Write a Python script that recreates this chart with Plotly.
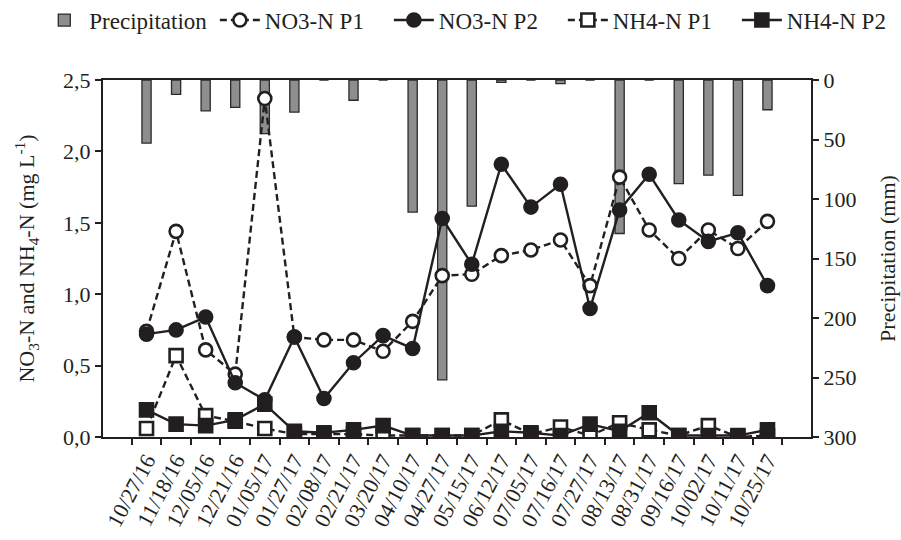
import plotly.graph_objects as go

dates = ["10/27/16", "11/18/16", "12/05/16", "12/21/16", "01/05/17", "01/27/17",
         "02/08/17", "02/21/17", "03/20/17", "04/10/17", "04/27/17", "05/15/17",
         "06/12/17", "07/05/17", "07/16/17", "07/27/17", "08/13/17", "08/31/17",
         "09/16/17", "10/02/17", "10/11/17", "10/25/17"]

precipitation = [53, 12, 26, 23, 45, 27, 0, 17, 0, 111, 252, 106,
                 2, 0, 3, 0, 129, 0, 87, 80, 97, 25]

no3_p1 = [0.74, 1.44, 0.61, 0.44, 2.37, 0.70, 0.68, 0.68, 0.60, 0.81, 1.13, 1.14,
          1.27, 1.31, 1.38, 1.06, 1.82, 1.45, 1.25, 1.45, 1.32, 1.51]
no3_p2 = [0.72, 0.75, 0.84, 0.38, 0.26, 0.70, 0.27, 0.52, 0.71, 0.62, 1.53, 1.21,
          1.91, 1.61, 1.77, 0.90, 1.59, 1.84, 1.52, 1.37, 1.43, 1.06]
nh4_p1 = [0.06, 0.57, 0.15, 0.11, 0.06, 0.02, 0.02, 0.02, 0.01, 0.01, 0.01, 0.01,
          0.12, 0.02, 0.07, 0.01, 0.10, 0.05, 0.01, 0.08, 0.00, 0.01]
nh4_p2 = [0.19, 0.09, 0.08, 0.12, 0.23, 0.04, 0.03, 0.05, 0.08, 0.01, 0.01, 0.01,
          0.04, 0.03, 0.01, 0.09, 0.04, 0.17, 0.01, 0.01, 0.01, 0.05]

FONT = "Liberation Serif, Times New Roman, DejaVu Serif, serif"
INK = "#231f20"
TICK_FONT = dict(size=22, family=FONT, color=INK)
LEGEND_FONT = dict(size=23, family=FONT, color=INK)

fig = go.Figure()

# Precipitation bars hang down from the top of the plot (reversed right axis)
fig.add_trace(go.Bar(
    x=dates, y=precipitation, name="Precipitation", yaxis="y", legend="legend",
    marker=dict(color="#8e8e8e", line=dict(color="#2b2b2b", width=1.3)),
    width=0.31,
))


def series(values, name, symbol, filled, dashed):
    return go.Scatter(
        x=dates, y=values, name=name, yaxis="y2", mode="lines+markers",
        legend="legend2",
        line=dict(color=INK, width=2.4, dash="7px,4px" if dashed else "solid"),
        marker=dict(symbol=symbol, size=13,
                    color=INK if filled else "white",
                    line=dict(color=INK, width=2.6)),
    )


fig.add_trace(series(no3_p1, "NO3-N P1", "circle", False, True))
fig.add_trace(series(no3_p2, "NO3-N P2", "circle", True, False))
fig.add_trace(series(nh4_p1, "NH4-N P1", "square", False, True))
fig.add_trace(series(nh4_p2, "NH4-N P2", "square", True, False))

fig.update_layout(
    width=901, height=540,
    margin=dict(l=103, r=90, t=80, b=103, autoexpand=False),
    paper_bgcolor="white", plot_bgcolor="white",
    font=dict(family=FONT, size=22, color=INK),
    separators=", ",
    showlegend=True,
    legend=dict(orientation="h", x=-0.09, xanchor="left", y=1.228, yanchor="top",
                font=LEGEND_FONT, itemwidth=40, bgcolor="rgba(0,0,0,0)"),
    legend2=dict(orientation="h", x=0.158, xanchor="left", y=1.228, yanchor="top",
                 font=LEGEND_FONT, itemwidth=40, entrywidth=119,
                 bgcolor="rgba(0,0,0,0)"),
    xaxis=dict(
        type="category", tickson="boundaries", ticks="outside", ticklen=6,
        tickwidth=2, tickcolor=INK, showline=True, linecolor=INK, linewidth=2,
        mirror=True, tickangle=-62, tickfont=TICK_FONT,
        showgrid=False, zeroline=False,
    ),
    yaxis=dict(
        side="right", range=[300, 0], dtick=50, ticks="outside", ticklen=6,
        tickwidth=2, tickcolor=INK, showline=True, linecolor=INK, linewidth=2,
        showgrid=False, zeroline=False, tickfont=TICK_FONT,
        title=dict(text="Precipitation (mm)", font=dict(size=22, family=FONT), standoff=24),
    ),
    yaxis2=dict(
        side="left", overlaying="y", range=[0, 2.5], dtick=0.5, tickformat=".1f",
        ticks="outside", ticklen=6, tickwidth=2, tickcolor=INK, showline=True,
        linecolor=INK, linewidth=2, showgrid=False, zeroline=False, tickfont=TICK_FONT,
        title=dict(text="NO<sub>3</sub>-N and NH<sub>4</sub>-N (mg L<sup>-1</sup>)",
                   font=dict(size=22, family=FONT), standoff=22),
    ),
)

fig.write_html("out.html")
